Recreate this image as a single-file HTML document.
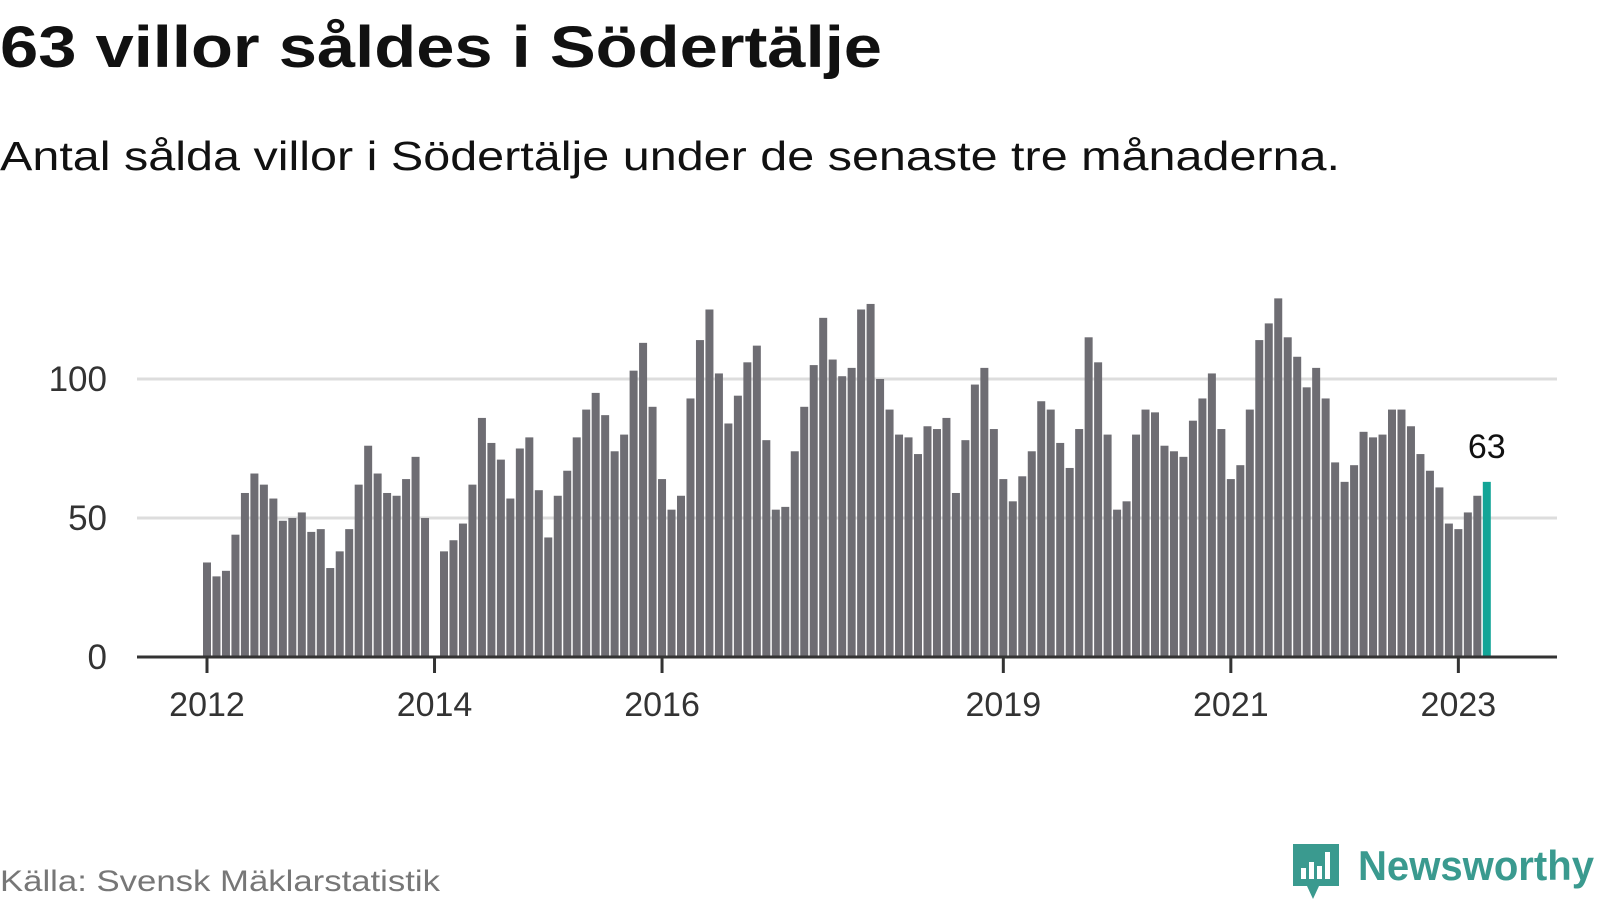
<!DOCTYPE html>
<html><head><meta charset="utf-8">
<style>
html,body{margin:0;padding:0;background:#fff;width:1600px;height:900px;overflow:hidden}
svg{display:block}
</style></head>
<body>
<svg id="chart" width="1600" height="900" xmlns="http://www.w3.org/2000/svg" font-family="'Liberation Sans', sans-serif">
<text x="0" y="67" font-size="58" font-weight="bold" fill="#111" textLength="882" lengthAdjust="spacingAndGlyphs">63 villor såldes i Södertälje</text>
<text x="0" y="170" font-size="41" fill="#111" textLength="1340" lengthAdjust="spacingAndGlyphs">Antal sålda villor i Södertälje under de senaste tre månaderna.</text>
<g id="grid"></g>
<g id="bars"></g>
<g id="axes"></g>
<text x="0" y="891" font-size="30" fill="#777" textLength="440" lengthAdjust="spacingAndGlyphs">Källa: Svensk Mäklarstatistik</text>
<g>
  <path d="M1293 844 h46 v42 h-20 l-6 13 l-6 -13 h-14 z" fill="#3a9a8f"/>
  <rect x="1301" y="868" width="5" height="11" fill="#fff"/>
  <rect x="1309" y="862" width="5" height="17" fill="#fff"/>
  <rect x="1317" y="866" width="5" height="13" fill="#fff"/>
  <rect x="1325" y="852" width="5" height="27" fill="#fff"/>
  <text x="1358" y="880" font-size="42" font-weight="bold" fill="#3a9a8f" textLength="236" lengthAdjust="spacingAndGlyphs">Newsworthy</text>
</g>
</svg>
<script>
const values = [34,29,31,44,59,66,62,57,49,50,52,45,
46,32,38,46,62,76,66,59,58,64,72,50,
0,38,42,48,62,86,77,71,57,75,79,60,
43,58,67,79,89,95,87,74,80,103,113,90,
64,53,58,93,114,125,102,84,94,106,112,78,
53,54,74,90,105,122,107,101,104,125,127,100,
89,80,79,73,83,82,86,59,78,98,104,82,
64,56,65,74,92,89,77,68,82,115,106,80,
53,56,80,89,88,76,74,72,85,93,102,82,
64,69,89,114,120,129,115,108,97,104,93,
70,63,69,81,79,80,89,89,83,73,67,61,
48,46,52,58,63];
const yTicks = [0,50,100];
const xTickIndex = [0,24,48,84,108,132];
const xTickLabels = ["2012","2014","2016","2019","2021","2023"];

const NS="http://www.w3.org/2000/svg";
const x0=207, pitch=9.48, bw=8, yBase=657, pxPerUnit=2.78;
const xs = i => x0 + i*pitch;
const ys = v => yBase - v*pxPerUnit;
function mk(tag, attrs, parent){const e=document.createElementNS(NS,tag);for(const k in attrs)e.setAttribute(k,attrs[k]);parent.appendChild(e);return e;}
const grid=document.getElementById('grid'), bars=document.getElementById('bars'), axes=document.getElementById('axes');
yTicks.forEach(t=>{
  if(t>0){const l=mk('line',{x1:137,x2:1557,y1:ys(t),y2:ys(t),stroke:'#dddddd','stroke-width':3},grid);
    
    }
  const tx=mk('text',{x:107,y:ys(t)+12,'text-anchor':'end','font-size':35,fill:'#333'},axes);
  tx.textContent=t;
  
  
});
const last=values.length-1;
values.forEach((v,i)=>{
  if(v<=0)return;
  const r=mk('rect',{x:xs(i)-bw/2,y:ys(v),width:bw,height:v*pxPerUnit,fill:i===last?'#13a597':'#6e6d73'},bars);
  
  
});
const lbl=mk('text',{x:xs(last),y:ys(values[last])-24,'text-anchor':'middle','font-size':34,fill:'#111'},bars);
lbl.textContent=values[last];


const ax=mk('line',{x1:137,x2:1557,y1:yBase,y2:yBase,stroke:'#333','stroke-width':3},axes);


xTickIndex.forEach((idx,k)=>{
  const tk=mk('line',{x1:xs(idx),x2:xs(idx),y1:yBase,y2:yBase+16,stroke:'#333','stroke-width':3},axes);
  
  
  const t=mk('text',{x:xs(idx),y:716,'text-anchor':'middle','font-size':34,fill:'#333'},axes);
  t.textContent=xTickLabels[k];
  
  
});
</script>
</body></html>
